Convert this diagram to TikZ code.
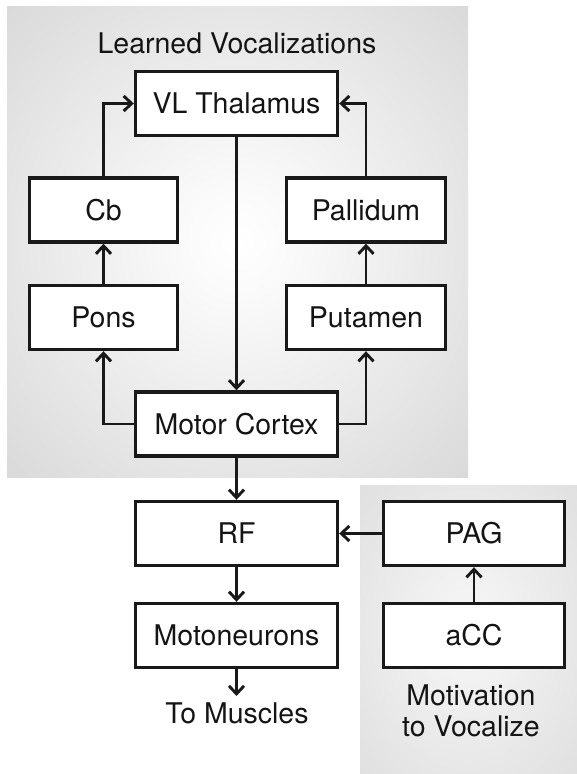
\documentclass[tikz,border=0pt]{standalone}
\usepackage{fontspec}
\setmainfont{TeX Gyre Heros}
\usetikzlibrary{arrows.meta}

% soft radial glow for the two background panels
\pgfdeclareradialshading{glowA}{\pgfpoint{0bp}{0bp}}{color(0bp)=(white); color(6bp)=(white!98!black); color(50bp)=(black!21); color(72bp)=(black!26)}
\pgfdeclareradialshading{glowB}{\pgfpoint{0bp}{0bp}}{color(0bp)=(white!96!black); color(8bp)=(white!95!black); color(50bp)=(black!16); color(72bp)=(black!20)}

\tikzset{
  lbl/.style={font=\fontsize{28.5}{31}\selectfont, text=black!92},
  box/.style={lbl, draw=black!90, line width=3.4pt, fill=white, inner sep=0pt,
              minimum height=64pt, text height=20.5pt, text depth=0pt},
  arr/.style={draw=black!90, line width=2.9pt,
              -{Straight Barb[length=8pt,width=15pt,line width=2.9pt]}},
}

\begin{document}
\begin{tikzpicture}[x=1pt,y=-1pt]
  \useasboundingbox (0,0) rectangle (577,774);

  % background panels
  \path[shading=glowA] (7,6) rectangle (468,477);
  \path[shading=glowB] (360,485) rectangle (577,774);

  % panel captions
  \node[lbl] (learned) at (237,43) {Learned Vocalizations};
  \node[lbl, align=center] (motiv) at (471,711) {Motivation\\to Vocalize};

  % boxes
  \node[box, minimum width=202pt] (vl)   at (236.5,103.5) {VL Thalamus};
  \node[box, minimum width=148pt] (cb)   at (103.5,210)   {Cb};
  \node[box, minimum width=159pt] (pal)  at (366,210)     {Pallidum};
  \node[box, minimum width=148pt] (pons) at (103.5,317.5) {Pons};
  \node[box, minimum width=159pt] (put)  at (366,317.5)   {Putamen};
  \node[box, minimum width=202pt] (mc)   at (236.5,424)   {Motor Cortex};
  \node[box, minimum width=202pt] (rf)   at (236.5,533.5) {RF};
  \node[box, minimum width=202pt] (moto) at (236.5,635.5) {Motoneurons};
  \node[box, minimum width=181pt] (pag)  at (474,533.5)   {PAG};
  \node[box, minimum width=181pt] (acc)  at (474,635.5)   {aCC};

  \node[lbl] (muscles) at (237,713) {To Muscles};
  \coordinate (out) at (236.5,696);

  % connections
  \draw[arr] (cb.north) |- (vl.west);
  \draw[arr] (pal.north) |- (vl.east);
  \draw[arr] (pons.north) -- (cb.south);
  \draw[arr] (put.north) -- (pal.south);
  \draw[arr] (vl.south) -- (mc.north);
  \draw[arr] (mc.west) -| (pons.south);
  \draw[arr] (mc.east) -| (put.south);
  \draw[arr] (mc.south) -- (rf.north);
  \draw[arr] (rf.south) -- (moto.north);
  \draw[arr] (moto.south) -- (out);
  \draw[arr] (pag.west) -- (rf.east);
  \draw[arr] (acc.north) -- (pag.south);
\end{tikzpicture}
\end{document}
